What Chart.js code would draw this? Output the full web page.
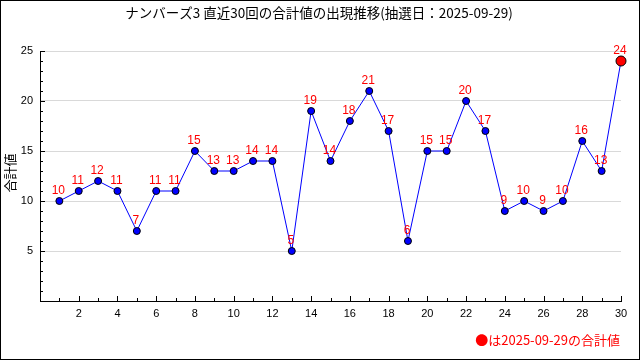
<!DOCTYPE html>
<html><head><meta charset="utf-8">
<script src="https://cdn.jsdelivr.net/npm/chart.js@4/dist/chart.umd.min.js"></script>
<style>html,body{margin:0;padding:0;background:#fff}canvas{display:block}</style>
</head><body>
<canvas id="c" width="640" height="360"></canvas>
<script>
const categories = [1,2,3,4,5,6,7,8,9,10,11,12,13,14,15,16,17,18,19,20,21,22,23,24,25,26,27,28,29,30];
const sums = [10,11,12,11,7,11,11,15,13,13,14,14,5,19,14,18,21,17,6,15,15,20,17,9,10,9,10,16,13,24];
const yTickLabels = [5,10,15,20,25];
const xTickLabels = [2,4,6,8,10,12,14,16,18,20,22,24,26,28,30];
const titleText = 'ナンバーズ3 直近30回の合計値の出現推移(抽選日：2025-09-29)';
const yTitle = '合計値';
const legendText = '●は2025-09-29の合計値';

const points = categories.map((c, i) => ({x: c, y: sums[i]}));
const lastIdx = sums.length - 1;
const JP = '"Noto Sans CJK JP", sans-serif';
const NUM = '"Liberation Sans", sans-serif';

const deco = {
  id: 'deco',
  beforeDraw(chart) {
    const ctx = chart.ctx;
    ctx.save();
    ctx.fillStyle = '#fff';
    ctx.fillRect(0, 0, chart.width, chart.height);
    ctx.restore();
  },
  afterDatasetsDraw(chart) {
    const ctx = chart.ctx;
    const xs = chart.scales.x, ys = chart.scales.y;
    const area = chart.chartArea;
    ctx.save();
    ctx.strokeStyle = '#000';
    ctx.lineWidth = 1;
    ctx.beginPath();
    for (let v = 1; v <= 30; v++) {
      const px = Math.round(xs.getPixelForValue(v)) + 0.5;
      const len = xTickLabels.includes(v) ? 5 : 3;
      ctx.moveTo(px, area.bottom);
      ctx.lineTo(px, area.bottom - len);
    }
    for (let v = 1; v <= 25; v++) {
      const py = Math.round(ys.getPixelForValue(v)) + 0.5;
      const len = yTickLabels.includes(v) ? 5 : 3;
      ctx.moveTo(area.left, py);
      ctx.lineTo(area.left + len, py);
    }
    ctx.stroke();
    const meta = chart.getDatasetMeta(0);
    ctx.fillStyle = '#ff0000';
    ctx.font = '12px ' + NUM;
    ctx.textAlign = 'center';
    ctx.textBaseline = 'middle';
    meta.data.forEach((el, i) => {
      ctx.fillText(String(sums[i]), el.x - 1, el.y - 10);
    });
    ctx.restore();
  },
  afterDraw(chart) {
    const ctx = chart.ctx;
    ctx.save();
    ctx.strokeStyle = '#000';
    ctx.lineWidth = 1;
    ctx.strokeRect(0.5, 0.5, chart.width - 1, chart.height - 1);
    ctx.fillStyle = '#000';
    ctx.font = '13.5px ' + JP;
    ctx.textAlign = 'center';
    ctx.textBaseline = 'middle';
    ctx.fillText(titleText, 319, 13);
    ctx.save();
    ctx.translate(10, 173);
    ctx.rotate(-Math.PI / 2);
    ctx.font = '13px ' + JP;
    ctx.fillText(yTitle, 0, 0);
    ctx.restore();
    ctx.fillStyle = '#ff0000';
    ctx.font = '13px ' + JP;
    ctx.textAlign = 'right';
    ctx.fillText(legendText, 620, 340);
    ctx.restore();
  }
};

new Chart(document.getElementById('c'), {
  type: 'line',
  data: {
    datasets: [{
      data: points,
      clip: false,
      borderColor: '#0000ff',
      borderWidth: 1,
      tension: 0,
      pointRadius: ctx => ctx.dataIndex === lastIdx ? 5 : 3.5,
      pointBackgroundColor: ctx => ctx.dataIndex === lastIdx ? '#ff0000' : '#0000ff',
      pointBorderColor: '#000',
      pointBorderWidth: 1
    }]
  },
  options: {
    responsive: false,
    animation: false,
    events: [],
    layout: {padding: {left: 0, top: 51, right: 19, bottom: 0}},
    plugins: {legend: {display: false}, title: {display: false}, tooltip: {enabled: false}},
    scales: {
      x: {
        type: 'linear', min: 0, max: 30,
        afterFit: s => { s.height = 59; },
        afterBuildTicks: s => { s.ticks = xTickLabels.map(v => ({value: v})); },
        ticks: {autoSkip: false, maxRotation: 0, padding: 6, color: '#000', font: {family: NUM, size: 11}},
        grid: {display: false, drawTicks: false},
        border: {display: true, color: '#000', width: 1}
      },
      y: {
        min: 0, max: 25,
        afterFit: s => { s.width = 40; },
        afterBuildTicks: s => { s.ticks = yTickLabels.map(v => ({value: v})); },
        ticks: {padding: 7, color: '#000', font: {family: NUM, size: 11}},
        grid: {color: '#d9d9d9', drawTicks: false},
        border: {display: true, color: '#000', width: 1}
      }
    }
  },
  plugins: [deco]
});
</script>
</body></html>
